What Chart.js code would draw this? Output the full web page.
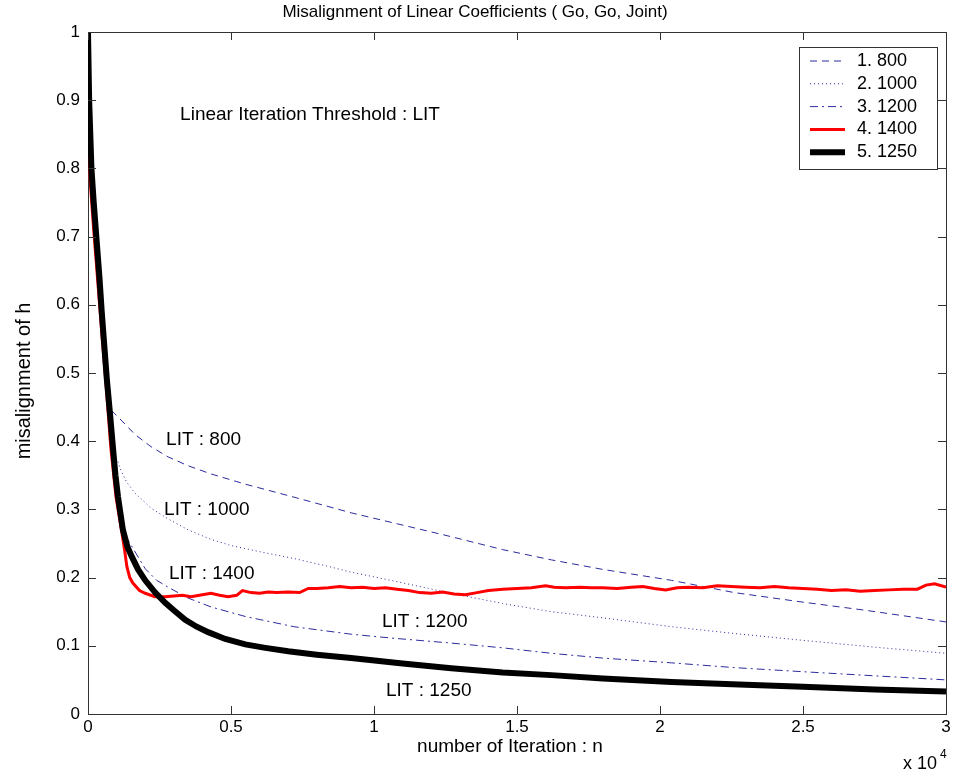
<!DOCTYPE html>
<html>
<head>
<meta charset="utf-8">
<title>Misalignment of Linear Coefficients</title>
<script src="https://cdn.jsdelivr.net/npm/chart.js@4.4.1/dist/chart.umd.min.js"></script>
<style>
  body { margin: 0; background: #fff; }
  #wrap { width: 953px; height: 776px; }
</style>
</head>
<body>
<div id="wrap"><canvas id="grafico" width="953" height="776"></canvas></div>
<script>
// iterations are in units of 10^4
const xTicks = [0, 0.5, 1, 1.5, 2, 2.5, 3];
const yTicks = [0, 0.1, 0.2, 0.3, 0.4, 0.5, 0.6, 0.7, 0.8, 0.9, 1];

const lit800X = [0.082, 0.094, 0.13, 0.164, 0.22, 0.28, 0.35, 0.43, 0.55, 0.72, 0.92, 1.07, 1.27, 1.45, 1.62, 1.8, 2.04, 2.26, 2.5, 2.72, 3.0];
const lit800Y = [0.445, 0.44, 0.425, 0.41, 0.392, 0.377, 0.364, 0.352, 0.337, 0.318, 0.295, 0.28, 0.26, 0.241, 0.226, 0.212, 0.196, 0.178, 0.164, 0.152, 0.135];

const lit1000X = [0.105, 0.112, 0.135, 0.164, 0.22, 0.28, 0.35, 0.43, 0.5, 0.6, 0.72, 0.835, 0.92, 1.07, 1.27, 1.45, 1.62, 1.8, 2.04, 2.26, 2.5, 2.75, 3.0];
const lit1000Y = [0.37, 0.36, 0.34, 0.324, 0.302, 0.286, 0.27, 0.256, 0.247, 0.238, 0.228, 0.217, 0.208, 0.195, 0.177, 0.162, 0.15, 0.141, 0.128, 0.118, 0.108, 0.098, 0.089];

const lit1200X = [0.13, 0.157, 0.2, 0.24, 0.28, 0.35, 0.43, 0.55, 0.72, 0.92, 1.07, 1.27, 1.45, 1.62, 1.8, 2.04, 2.26, 2.5, 2.75, 3.0];
const lit1200Y = [0.262, 0.243, 0.213, 0.196, 0.186, 0.17, 0.157, 0.143, 0.128, 0.117, 0.111, 0.104, 0.097, 0.089, 0.082, 0.075, 0.068, 0.062, 0.056, 0.05];

const lit1400X = [0, 0.003, 0.008, 0.02, 0.035, 0.05, 0.062, 0.08, 0.098, 0.117, 0.128, 0.136, 0.146, 0.157, 0.18, 0.2, 0.234, 0.27,
  0.30, 0.33, 0.36, 0.40, 0.43, 0.46, 0.49, 0.52, 0.54, 0.57, 0.60, 0.63, 0.66, 0.70, 0.74, 0.77, 0.80, 0.84, 0.88, 0.92, 0.96,
  1.00, 1.04, 1.08, 1.12, 1.16, 1.20, 1.24, 1.28, 1.32, 1.36, 1.40, 1.45, 1.50, 1.55, 1.60, 1.63, 1.67, 1.72, 1.76, 1.80, 1.85,
  1.90, 1.94, 1.98, 2.02, 2.06, 2.10, 2.15, 2.20, 2.25, 2.30, 2.35, 2.40, 2.45, 2.50, 2.55, 2.60, 2.65, 2.70, 2.75, 2.80, 2.85,
  2.90, 2.93, 2.96, 3.00];
const lit1400Y = [1, 0.85, 0.78, 0.71, 0.63, 0.55, 0.49, 0.39, 0.318, 0.27, 0.24, 0.216, 0.2, 0.192, 0.181, 0.177, 0.172, 0.172,
  0.173, 0.174, 0.172, 0.175, 0.177, 0.174, 0.172, 0.174, 0.181, 0.178, 0.177, 0.179, 0.178, 0.179, 0.178, 0.184, 0.184, 0.185, 0.187, 0.185, 0.186,
  0.184, 0.185, 0.183, 0.181, 0.178, 0.177, 0.179, 0.176, 0.175, 0.178, 0.181, 0.183, 0.184, 0.185, 0.188, 0.186, 0.185, 0.186, 0.185, 0.185, 0.184,
  0.186, 0.187, 0.184, 0.182, 0.185, 0.186, 0.185, 0.188, 0.187, 0.186, 0.185, 0.187, 0.185, 0.184, 0.183, 0.181, 0.182, 0.180, 0.181, 0.182, 0.183,
  0.183, 0.189, 0.191, 0.186];

const lit1250X = [0, 0.004, 0.012, 0.02, 0.03, 0.04, 0.048, 0.057, 0.066, 0.077, 0.087, 0.096, 0.105, 0.122, 0.138, 0.154, 0.175, 0.2, 0.235, 0.27,
  0.3, 0.34, 0.38, 0.42, 0.48, 0.55, 0.62, 0.7, 0.8, 0.92, 1.1, 1.27, 1.45, 1.62, 1.8, 2.04, 2.3, 2.5, 2.75, 3.0];
const lit1250Y = [1, 0.9, 0.8, 0.75, 0.695, 0.64, 0.59, 0.54, 0.49, 0.44, 0.392, 0.35, 0.318, 0.27, 0.245, 0.23, 0.212, 0.196, 0.178, 0.163,
  0.152, 0.138, 0.128, 0.12, 0.11, 0.102, 0.097, 0.092, 0.087, 0.082, 0.074, 0.067, 0.061, 0.057, 0.052, 0.047, 0.043, 0.04, 0.036, 0.033];

function pares(xs, ys) {
    return xs.map((x, i) => ({ x: x, y: ys[i] }));
}

const fonte = "'Liberation Sans', Arial, sans-serif";
const azul = '#2b2b9c';

// text notes placed in data coordinates
const notas = [
    { texto: 'Linear Iteration Threshold : LIT', x: 0.322, y: 0.878 },
    { texto: 'LIT : 800', x: 0.273, y: 0.402 },
    { texto: 'LIT : 1000', x: 0.266, y: 0.299 },
    { texto: 'LIT : 1400', x: 0.283, y: 0.205 },
    { texto: 'LIT : 1200', x: 1.028, y: 0.135 },
    { texto: 'LIT : 1250', x: 1.042, y: 0.034 }
];

const extras = {
    id: 'extras',
    afterDraw(chart) {
        const c = chart.ctx;
        const a = chart.chartArea;
        const sx = chart.scales.x;
        const sy = chart.scales.y;

        c.save();
        // box and inward ticks
        c.strokeStyle = '#333';
        c.lineWidth = 1;
        c.beginPath();
        c.moveTo(a.left, a.top + 0.5);
        c.lineTo(a.right + 0.5, a.top + 0.5);
        c.lineTo(a.right + 0.5, a.bottom);
        c.stroke();
        c.beginPath();
        xTicks.forEach(v => {
            const p = Math.round(sx.getPixelForValue(v)) + 0.5;
            c.moveTo(p, a.bottom); c.lineTo(p, a.bottom - 8);
            c.moveTo(p, a.top); c.lineTo(p, a.top + 8);
        });
        yTicks.forEach(v => {
            const p = Math.round(sy.getPixelForValue(v)) + 0.5;
            c.moveTo(a.left, p); c.lineTo(a.left + 8, p);
            c.moveTo(a.right, p); c.lineTo(a.right - 8, p);
        });
        c.stroke();

        c.fillStyle = '#000';
        c.textBaseline = 'middle';

        // title
        c.font = '17px ' + fonte;
        c.textAlign = 'center';
        c.fillText('Misalignment of Linear Coefficients ( Go, Go, Joint)', 475, 12);

        // axis labels
        c.font = '19px ' + fonte;
        c.fillText('number of Iteration : n', 510, 747);
        c.save();
        c.translate(24, 381);
        c.rotate(-Math.PI / 2);
        c.font = '20px ' + fonte;
        c.fillText('misalignment of h', 0, 0);
        c.restore();

        // x 10^4
        c.textAlign = 'left';
        c.font = '18px ' + fonte;
        c.fillText('x 10', 903, 764);
        c.font = '12px ' + fonte;
        c.fillText('4', 940, 755);

        // notes
        c.font = '19px ' + fonte;
        notas.forEach(n => {
            c.fillText(n.texto, sx.getPixelForValue(n.x), sy.getPixelForValue(n.y));
        });

        // legend
        const lx = 799, ly = 47, lw = 138, lh = 122;
        c.fillStyle = '#fff';
        c.fillRect(lx, ly, lw, lh);
        c.strokeStyle = '#333';
        c.lineWidth = 1;
        c.strokeRect(lx + 0.5, ly + 0.5, lw, lh);
        chart.data.datasets.forEach((ds, i) => {
            const yy = 61 + i * 22.8;
            c.strokeStyle = ds.borderColor;
            c.lineWidth = ds.borderWidth;
            c.setLineDash(ds.borderDash || []);
            c.beginPath();
            c.moveTo(810, yy);
            c.lineTo(845, yy);
            c.stroke();
            c.setLineDash([]);
            c.fillStyle = '#000';
            c.font = '18px ' + fonte;
            c.fillText(ds.label, 857, yy);
        });
        c.restore();
    }
};

const ctx = document.getElementById('grafico');

new Chart(ctx, {
    type: 'line',
    data: {
        datasets: [
            {
                label: '1. 800',
                data: pares(lit800X, lit800Y),
                borderColor: azul,
                borderWidth: 1,
                borderDash: [7, 5],
                order: 4
            },
            {
                label: '2. 1000',
                data: pares(lit1000X, lit1000Y),
                borderColor: azul,
                borderWidth: 1,
                borderDash: [1, 3],
                order: 3
            },
            {
                label: '3. 1200',
                data: pares(lit1200X, lit1200Y),
                borderColor: azul,
                borderWidth: 1,
                borderDash: [8, 4, 2, 4],
                order: 2
            },
            {
                label: '4. 1400',
                data: pares(lit1400X, lit1400Y),
                borderColor: '#ff0000',
                borderWidth: 3,
                order: 1
            },
            {
                label: '5. 1250',
                data: pares(lit1250X, lit1250Y),
                borderColor: '#000000',
                borderWidth: 6,
                order: 0
            }
        ]
    },
    options: {
        responsive: false,
        animation: false,
        events: [],
        elements: {
            point: { radius: 0 },
            line: { tension: 0, fill: false, borderCapStyle: 'butt' }
        },
        layout: { padding: { top: 32, right: 7, left: 0, bottom: 0 } },
        plugins: {
            legend: { display: false },
            title: { display: false },
            tooltip: { enabled: false }
        },
        scales: {
            x: {
                type: 'linear',
                min: 0,
                max: 3,
                afterBuildTicks: s => { s.ticks = xTicks.map(v => ({ value: v })); },
                afterFit: s => { s.height = 62; s.paddingLeft = 0; s.paddingRight = 0; },
                grid: { display: false, drawTicks: false },
                border: { display: true, color: '#333', width: 1 },
                ticks: { color: '#000', padding: 3, font: { family: fonte, size: 17 }, maxRotation: 0, callback: v => String(v) }
            },
            y: {
                type: 'linear',
                min: 0,
                max: 1,
                afterBuildTicks: s => { s.ticks = yTicks.map(v => ({ value: v })); },
                afterFit: s => { s.width = 88; s.paddingTop = 0; s.paddingBottom = 0; },
                grid: { display: false, drawTicks: false },
                border: { display: true, color: '#333', width: 1 },
                ticks: { color: '#000', padding: 8, font: { family: fonte, size: 17 }, callback: v => String(v) }
            }
        }
    },
    plugins: [extras]
});
</script>
</body>
</html>
